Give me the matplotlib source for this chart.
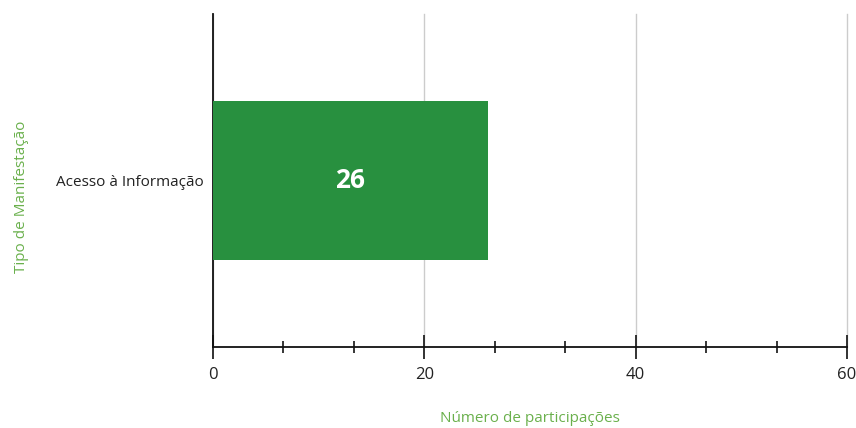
import matplotlib.pyplot as plt
from matplotlib.ticker import MultipleLocator

# dados
categorias = ["Acesso à Informação"]
participacoes = [26]
x_ticks = [0, 20, 40, 60]

plt.rcParams["font.family"] = ["Open Sans", "DejaVu Sans"]

fig = plt.figure(figsize=(8.56, 4.28), dpi=100)
ax = fig.add_axes([0.2488, 0.1893, 0.7407, 0.778])

bars = ax.barh(categorias, participacoes, height=0.48, color="#28903F", zorder=3)
for bar, valor in zip(bars, participacoes):
    ax.text(
        bar.get_width() / 2,
        bar.get_y() + bar.get_height() / 2,
        str(valor),
        ha="center",
        va="center",
        color="white",
        fontsize=19,
        fontweight="bold",
        zorder=4,
    )

ax.set_xlim(0, 60)
ax.set_ylim(-0.5, 0.5)
ax.set_xticks(x_ticks)
ax.xaxis.set_minor_locator(MultipleLocator(20 / 3))
ax.tick_params(axis="x", which="major", direction="inout", length=17, width=1.3,
               labelsize=12, pad=6, colors="#222222")
ax.tick_params(axis="x", which="minor", direction="inout", length=9, width=1.1)
ax.tick_params(axis="y", length=0, labelsize=11, pad=7, colors="#222222")

ax.grid(axis="x", color="#cccccc", linewidth=1, zorder=0)
for linha in ax.get_xgridlines():
    linha.set_clip_on(False)
for lado in ("top", "right"):
    ax.spines[lado].set_visible(False)
for lado in ("left", "bottom"):
    ax.spines[lado].set_linewidth(1.3)
    ax.spines[lado].set_color("#111111")
ax.spines["bottom"].set_zorder(5)

ax.set_xlabel("Número de participações", color="#6AB04C", fontsize=11, labelpad=20)
ax.set_ylabel("Tipo de Manifestação", color="#6AB04C", fontsize=11)
ax.yaxis.set_label_coords(-0.29, 0.45)

fig.savefig("out.png", dpi=100)
